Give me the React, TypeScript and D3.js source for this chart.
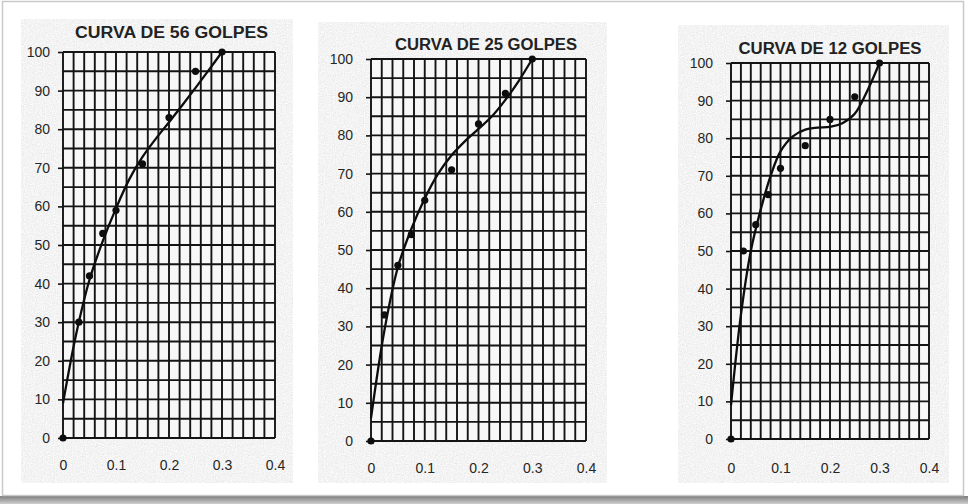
// Curvas de golpes: three scanned-style grid charts
import React, { useEffect, useRef } from 'react';
import * as d3 from 'd3';

const xTicks = [0, 0.1, 0.2, 0.3, 0.4];
const xTickLabels = ['0', '0.1', '0.2', '0.3', '0.4'];
const yTicks = [0, 10, 20, 30, 40, 50, 60, 70, 80, 90, 100];
const golpes = ['56', '25', '12'];

// measured points
const pointsX56 = [0, 0.03, 0.05, 0.075, 0.1, 0.15, 0.2, 0.25, 0.3];
const pointsY56 = [0, 30, 42, 53, 59, 71, 83, 95, 100];
const pointsX25 = [0, 0.025, 0.05, 0.075, 0.1, 0.15, 0.2, 0.25, 0.3];
const pointsY25 = [0, 33, 46, 54, 63, 71, 83, 91, 100];
const pointsX12 = [0, 0.025, 0.05, 0.075, 0.1, 0.15, 0.2, 0.25, 0.3];
const pointsY12 = [0, 50, 57, 65, 72, 78, 85, 91, 100];

// trend curves
const curveX56 = [0, 0.025, 0.05, 0.075, 0.1, 0.125, 0.15, 0.175, 0.2, 0.225, 0.25, 0.275, 0.3];
const curveY56 = [9, 27, 41, 51, 59.5, 67, 72.8, 77.5, 81.8, 86.2, 90.7, 95.3, 100];
const curveX25 = [0, 0.025, 0.05, 0.075, 0.1, 0.125, 0.15, 0.175, 0.2, 0.225, 0.25, 0.275, 0.3];
const curveY25 = [6, 29, 45.5, 55.5, 63.5, 70, 74.8, 78.5, 81.7, 85, 89.3, 94.3, 100];
const curveX12 = [0, 0.02, 0.04, 0.06, 0.08, 0.1, 0.125, 0.15, 0.175, 0.2, 0.225, 0.25, 0.275, 0.3];
const curveY12 = [9, 33, 50, 61, 70, 76.5, 80.5, 82.3, 82.8, 83, 84, 86.5, 92.5, 100];

const series = [
  { px: pointsX56, py: pointsY56, cx: curveX56, cy: curveY56 },
  { px: pointsX25, py: pointsY25, cx: curveX25, cy: curveY25 },
  { px: pointsX12, py: pointsY12, cx: curveX12, cy: curveY12 },
];

// panel geometry (scanned page is slightly uneven)
const layout = [
  { bg: [21, 19, 272, 464], plot: [63, 52, 275, 438], titleX: 171.5, titleY: 38, titleLen: 193, gap: 13, xPad: 22 },
  { bg: [318, 22, 289, 461], plot: [371, 59, 586, 441], titleX: 486, titleY: 50, titleLen: 182, gap: 18, xPad: 22 },
  { bg: [678, 25, 271, 458], plot: [731, 63, 929, 439], titleX: 830, titleY: 54, titleLen: 183, gap: 18, xPad: 24 },
];

const FONT = '"Liberation Sans", Arial, sans-serif';
const INK = '#141414';

const App: React.FC = () => {
  const ref = useRef<SVGSVGElement>(null);

  useEffect(() => {
    if (!ref.current) return;
    const svg = d3.select(ref.current);
    svg.selectAll('*').remove();

    const defs = svg.append('defs');
    const grain = defs.append('filter').attr('id', 'grain').attr('x', 0).attr('y', 0).attr('width', 1).attr('height', 1);
    grain.append('feTurbulence').attr('type', 'fractalNoise').attr('baseFrequency', 0.9).attr('numOctaves', 2).attr('seed', 3).attr('result', 'n');
    grain.append('feColorMatrix').attr('in', 'n').attr('type', 'saturate').attr('values', 0).attr('result', 'g');
    const ct = grain.append('feComponentTransfer').attr('in', 'g').attr('result', 'c');
    ct.append('feFuncR').attr('type', 'linear').attr('slope', 0.4).attr('intercept', 0.7);
    ct.append('feFuncG').attr('type', 'linear').attr('slope', 0.4).attr('intercept', 0.7);
    ct.append('feFuncB').attr('type', 'linear').attr('slope', 0.4).attr('intercept', 0.7);
    ct.append('feFuncA').attr('type', 'linear').attr('slope', 0).attr('intercept', 1);
    grain.append('feComposite').attr('in', 'c').attr('in2', 'SourceGraphic').attr('operator', 'in');

    const shadow = defs.append('linearGradient').attr('id', 'shadow').attr('x1', 0).attr('y1', 0).attr('x2', 0).attr('y2', 1);
    shadow.append('stop').attr('offset', '0%').attr('stop-color', '#7d7d7d');
    shadow.append('stop').attr('offset', '100%').attr('stop-color', '#cfcfcf');

    // page
    svg.append('rect').attr('width', 968).attr('height', 504).attr('fill', '#ffffff');
    svg.append('rect').attr('x', 0).attr('y', 496).attr('width', 968).attr('height', 8).attr('fill', 'url(#shadow)');
    svg.append('rect').attr('x', 2.5).attr('y', 1.5).attr('width', 961).attr('height', 494)
      .attr('fill', 'none').attr('stroke', '#c9c9c9').attr('stroke-width', 1.5);

    layout.forEach((L, i) => {
      const s = series[i];
      const [bx, by, bw, bh] = L.bg;
      const [x0, y0, x1, y1] = L.plot;

      svg.append('rect').attr('x', bx).attr('y', by).attr('width', bw).attr('height', bh)
        .attr('fill', '#e4e4e4').attr('filter', 'url(#grain)');

      const x = d3.scaleLinear().domain([0, 0.4]).range([x0, x1]);
      const y = d3.scaleLinear().domain([0, 100]).range([y1, y0]);

      const g = svg.append('g');

      g.append('rect').attr('x', x0).attr('y', y0).attr('width', x1 - x0).attr('height', y1 - y0).attr('fill', '#f7f7f7');

      // grid
      g.append('g').selectAll('line').data(x.ticks(20)).join('line')
        .attr('x1', d => x(d)).attr('x2', d => x(d)).attr('y1', y0).attr('y2', y1)
        .attr('stroke', INK).attr('stroke-width', 1.9);
      g.append('g').selectAll('line').data(y.ticks(20)).join('line')
        .attr('x1', x0).attr('x2', x1).attr('y1', d => y(d)).attr('y2', d => y(d))
        .attr('stroke', INK).attr('stroke-width', 1.9);

      // axes
      const yAxis = d3.axisLeft(y).tickValues(yTicks).tickSize(5).tickPadding(L.gap - 5).tickFormat(d3.format('d'));
      const ya = g.append('g').attr('transform', `translate(${x0},0)`).call(yAxis);
      ya.select('.domain').remove();
      ya.selectAll('line').attr('stroke', INK).attr('stroke-width', 1.6);
      ya.selectAll('text').attr('fill', '#262626').style('font-family', FONT).style('font-size', '14px');

      const xAxis = d3.axisBottom(x).tickValues(xTicks).tickSize(0).tickPadding(L.xPad)
        .tickFormat((_, k) => xTickLabels[k]);
      const xa = g.append('g').attr('transform', `translate(0,${y1})`).call(xAxis);
      xa.select('.domain').remove();
      xa.selectAll('text').attr('fill', '#262626').style('font-family', FONT).style('font-size', '14px');

      // trend curve
      const line = d3.line<number>()
        .x((_, k) => x(s.cx[k]))
        .y(d => y(d))
        .curve(d3.curveCatmullRom.alpha(0.5));
      g.append('path').datum(s.cy).attr('d', line)
        .attr('fill', 'none').attr('stroke', '#0d0d0d').attr('stroke-width', 2.3);

      // points
      g.append('g').selectAll('circle').data(s.py).join('circle')
        .attr('cx', (_, k) => x(s.px[k])).attr('cy', d => y(d)).attr('r', 3.6)
        .attr('fill', '#0d0d0d');

      // title
      g.append('text').attr('x', L.titleX).attr('y', L.titleY).attr('text-anchor', 'middle')
        .attr('textLength', L.titleLen).attr('lengthAdjust', 'spacingAndGlyphs')
        .style('font-family', FONT).style('font-size', '16px').style('font-weight', 'bold')
        .attr('fill', '#222222')
        .text(`CURVA DE ${golpes[i]} GOLPES`);
    });
  }, []);

  return (
    <div style={{ position: 'absolute', left: 0, top: 0 }}>
      <svg ref={ref} width={968} height={504} style={{ display: 'block' }} />
    </div>
  );
};

export default App;
